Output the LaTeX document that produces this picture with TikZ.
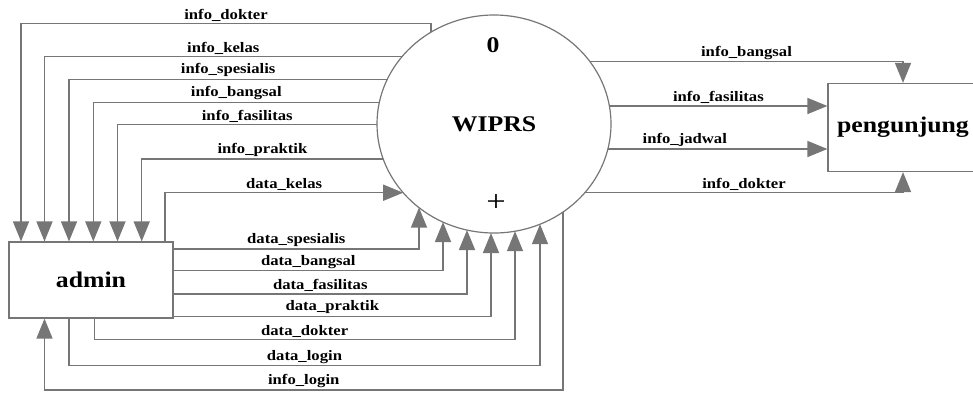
\documentclass[tikz,border=0pt]{standalone}
\usepackage{fontspec}
\setmainfont{Liberation Serif}[FakeStretch=1.15]
\usepackage{tikz}
\usetikzlibrary{shapes,arrows.meta,positioning}
\definecolor{lgray}{RGB}{118,118,118}
\tikzstyle{ent} = [rectangle, draw=lgray, line width=1.2pt, fill=white, inner sep=0pt, font=\fontsize{22.4}{26}\selectfont\bfseries]
\tikzstyle{proc} = [ellipse, draw=lgray, line width=1.2pt, fill=white, inner sep=0pt, minimum width=234pt, minimum height=218pt, font=\fontsize{22.4}{26}\selectfont\bfseries]
\tikzstyle{big} = [inner sep=0pt, font=\fontsize{22.4}{26}\selectfont\bfseries]
\tikzstyle{line} = [draw=lgray, line width=1.5pt, -{Triangle[length=20pt,width=16pt]}]
\tikzstyle{lbl} = [above, inner sep=1.5pt, font=\fontsize{14.5}{16}\selectfont\bfseries]

\begin{document}
\begin{tikzpicture}[x=1pt, y=-1pt]
			\useasboundingbox (0,0) rectangle (973,392);
			\node [ent, minimum width=164pt, minimum height=76pt] (admin) at (91,280) {admin};
			\node [ent, minimum width=150pt, minimum height=88pt] (pengunjung) at (903,127.5) {pengunjung};
			\node [proc] (wiprs) at (494,124) {WIPRS};
			\node [big] (nol) at (493,45) {0};
			\node [big, font=\fontsize{30}{34}\selectfont] (plus) at (496,203) {+};

			\coordinate (r-idok) at (431,32);
			\coordinate (r-ikel) at (402,56.7);
			\coordinate (r-ispe) at (387.3,79.3);
			\coordinate (r-iban) at (379.3,102.3);
			\coordinate (r-ifas) at (377,124.7);
			\coordinate (r-ipra) at (383.2,159);
			\coordinate (r-dkel) at (403.2,192.7);
			\coordinate (r-dspe) at (419,207.6);
			\coordinate (r-dban) at (443,222);
			\coordinate (r-dfas) at (467,230);
			\coordinate (r-dpra) at (491,233);
			\coordinate (r-ddok) at (515,231.2);
			\coordinate (r-dlog) at (540,224.2);
			\coordinate (r-ilog) at (563,212);
			\coordinate (r-pban) at (590,61.7);
			\coordinate (r-pfas) at (609.4,106);
			\coordinate (r-pjad) at (608,149);
			\coordinate (r-pdok) at (585,192.3);

			\path [line] (r-idok) -- ++(0,-8.7) -| node [lbl, pos=0.25] (t-idok) {info\_dokter} (admin.north -| 21,0);
			\path [line] (r-ikel) -| node [lbl, pos=0.25] (t-ikel) {info\_kelas} (admin.north -| 44.5,0);
			\path [line] (r-ispe) -| node [lbl, pos=0.25] (t-ispe) {info\_spesialis} (admin.north -| 69,0);
			\path [line] (r-iban) -| node [lbl, pos=0.25] (t-iban) {info\_bangsal} (admin.north -| 93.3,0);
			\path [line] (r-ifas) -| node [lbl, pos=0.25] (t-ifas) {info\_fasilitas} (admin.north -| 117.5,0);
			\path [line] (r-ipra) -| node [lbl, pos=0.25] (t-ipra) {info\_praktik} (admin.north -| 141.7,0);
			\path [line] (admin.north -| 165,0) |- node [lbl, pos=0.75] (t-dkel) {data\_kelas} (r-dkel);

			\path [line] (admin.east |- 0,249) -| node [lbl, pos=0.25] (t-dspe) {data\_spesialis} (r-dspe);
			\path [line] (admin.east |- 0,270.7) -| node [lbl, pos=0.25] (t-dban) {data\_bangsal} (r-dban);
			\path [line] (admin.east |- 0,294) -| node [lbl, pos=0.25] (t-dfas) {data\_fasilitas} (r-dfas);
			\path [line] (admin.east |- 0,316.3) -| node [lbl, pos=0.25] (t-dpra) {data\_praktik} (r-dpra);
			\path [line] (admin.south -| 94.3,0) -- ++(0,20.7) -| node [lbl, pos=0.25] (t-ddok) {data\_dokter} (r-ddok);
			\path [line] (admin.south -| 69,0) -- ++(0,47) -| node [lbl, pos=0.25] (t-dlog) {data\_login} (r-dlog);
			\path [line] (r-ilog) -- ++(0,178) -| node [lbl, pos=0.25] (t-ilog) {info\_login} (admin.south -| 44.5,0);

			\path [line] (r-pban) -| node [lbl, pos=0.25] (t-pban) {info\_bangsal} (pengunjung.north);
			\path [line] (r-pfas) -- node [lbl] (t-pfas) {info\_fasilitas} (pengunjung.west |- 0,106);
			\path [line] (r-pjad) -- node [lbl, pos=0.35] (t-pjad) {info\_jadwal} (pengunjung.west |- 0,149);
			\path [line] (r-pdok) -| node [lbl, pos=0.25] (t-pdok) {info\_dokter} (pengunjung.south);
		\end{tikzpicture}
\end{document}
